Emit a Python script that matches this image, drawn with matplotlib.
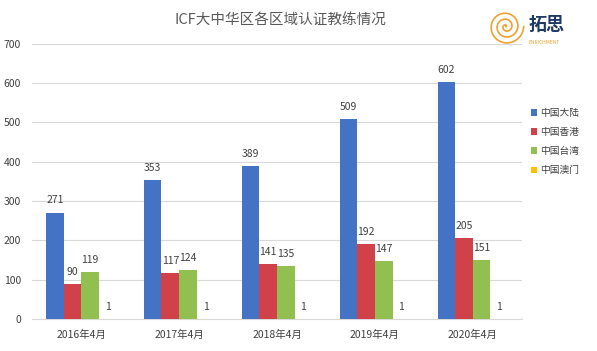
import numpy as np
import matplotlib.pyplot as plt

plt.rcParams['font.family'] = ['Noto Sans CJK SC', 'DejaVu Sans']

# 数据
categories = ['2016年4月', '2017年4月', '2018年4月', '2019年4月', '2020年4月']
series_names = ['中国大陆', '中国香港', '中国台湾', '中国澳门']
mainland = [271, 353, 389, 509, 602]
hongkong = [90, 117, 141, 192, 205]
taiwan = [119, 124, 135, 147, 151]
macau = [1, 1, 1, 1, 1]
colors = ['#4472C4', '#D0414A', '#92C050', '#FFC000']

fig = plt.figure(figsize=(5.97, 3.51), dpi=100)
ax = fig.add_axes([0.054, 0.091, 0.820, 0.784])

x = np.arange(len(categories))
w = 0.18
series = [mainland, hongkong, taiwan, macau]
for i, (vals, name, c) in enumerate(zip(series, series_names, colors)):
    pos = x + (i - 1.5) * w
    ax.bar(pos, vals, w, color=c, label=name, zorder=3)
    for p, v in zip(pos, vals):
        ax.text(p, v + 18, str(v), ha='center', va='bottom', fontsize=7.5, color='#404040')

ax.set_xlim(-0.5, len(categories) - 0.5)
ax.set_ylim(0, 700)
ax.set_yticks(range(0, 701, 100))
ax.set_xticks(x)
ax.set_xticklabels(categories)
ax.grid(axis='y', color='#D9D9D9', linewidth=0.8, zorder=0)
for s in ['top', 'right', 'left']:
    ax.spines[s].set_visible(False)
ax.spines['bottom'].set_color('#D9D9D9')
ax.tick_params(axis='both', length=0, labelsize=7.5, colors='#404040', pad=8)

fig.suptitle('ICF大中华区各区域认证教练情况', x=0.47, y=0.965, fontsize=10.5, color='#595959')

ax.legend(loc='center left', bbox_to_anchor=(1.0, 0.645), frameon=False, fontsize=7,
          handlelength=0.7, handleheight=0.7, labelspacing=0.95, handletextpad=0.3,
          labelcolor='#404040')

# 右上角标志
lax = fig.add_axes([0.82, 0.87, 0.06, 0.10])
th = np.linspace(0, 6 * np.pi, 300)
r = th / (6 * np.pi)
lax.plot(r * np.cos(th), r * np.sin(th), color='#F0A030', linewidth=1.2)
lax.set_aspect('equal')
lax.axis('off')
fig.text(0.885, 0.93, '拓思', fontsize=13, color='#1F3864', fontweight='bold', ha='left', va='center')
fig.text(0.885, 0.88, 'ENRICHMENT', fontsize=3.5, color='#F0A030', ha='left', va='center')

fig.savefig('out.png', dpi=100)
